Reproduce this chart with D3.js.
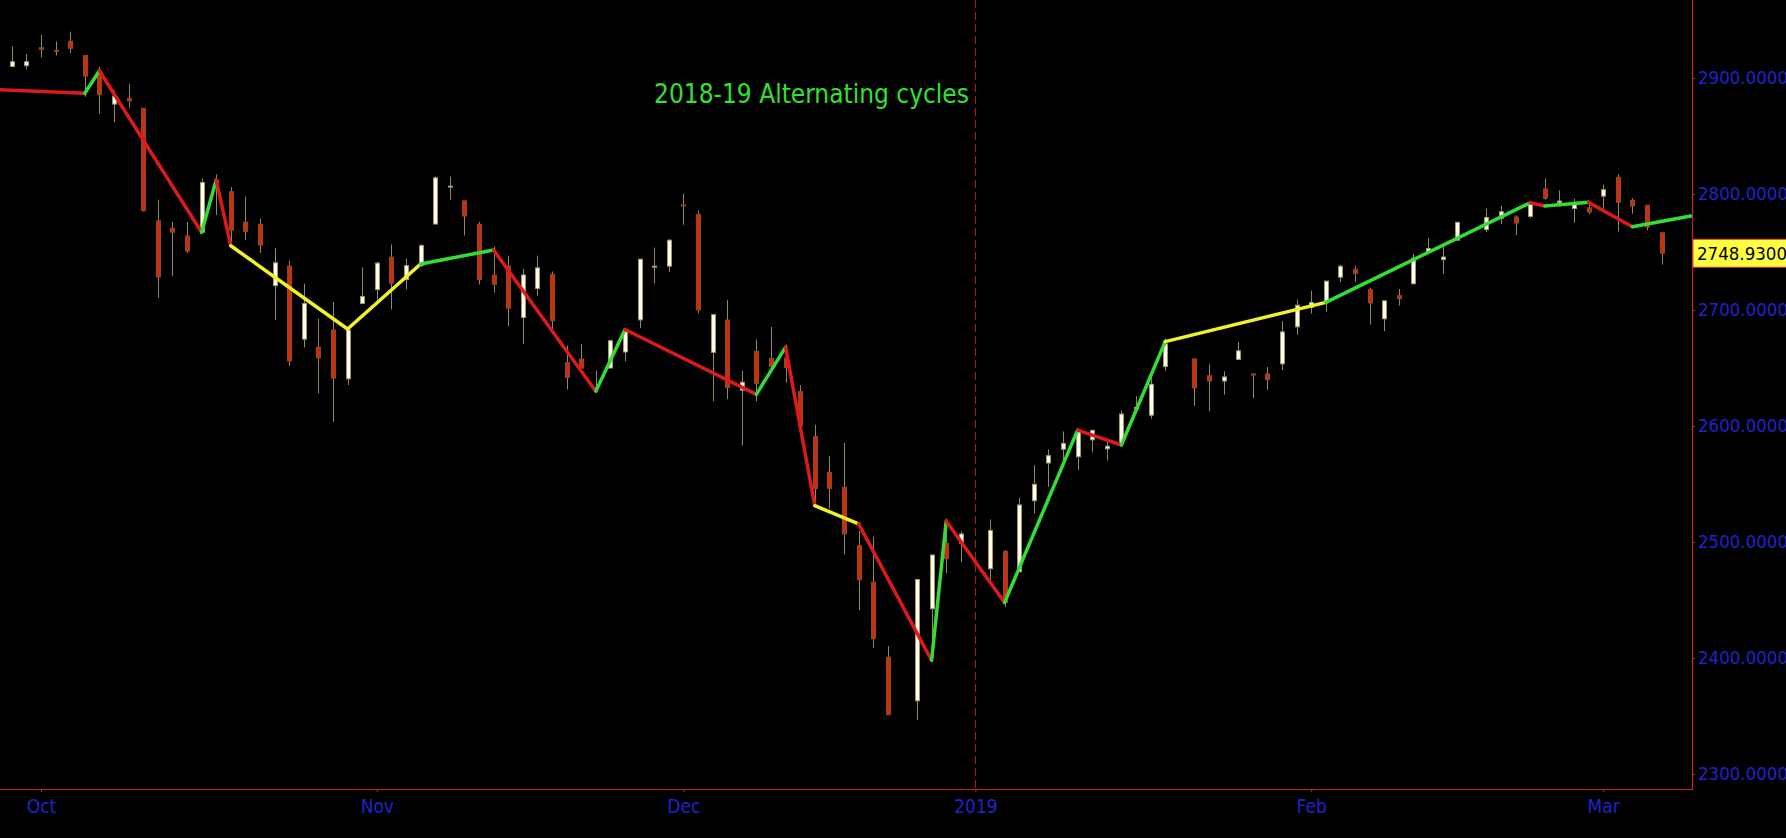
<!DOCTYPE html>
<html lang="en">
<head>
    <meta charset="utf-8">
    <title>2018-19 Alternating cycles</title>
    <script type="text/javascript" src="https://d3js.org/d3.v7.min.js"></script>
    <style>
     body {
        margin: 0;
        background: #000;
        overflow: hidden;
     }

     .axisy text, .axisx text {
        font-family: "DejaVu Sans Condensed", "Liberation Sans", sans-serif;
        fill: #2222cc;
     }

     .axisy path, .axisx path {
        display: none;
     }

     .axisy line, .axisx line {
        stroke: #c62828;
     }
    </style>
</head>
<body>
    <div id="chart"></div>
    <script type="text/javascript">
        const width = 1786;
        const height = 838;
        const plotRight = 1692;
        const plotBottom = 789;

        // daily S&P 500 bars
        const dates = [
            "2018-09-27","2018-09-28","2018-10-01","2018-10-02","2018-10-03","2018-10-04","2018-10-05","2018-10-08",
            "2018-10-09","2018-10-10","2018-10-11","2018-10-12","2018-10-15","2018-10-16","2018-10-17","2018-10-18",
            "2018-10-19","2018-10-22","2018-10-23","2018-10-24","2018-10-25","2018-10-26","2018-10-29","2018-10-30",
            "2018-10-31","2018-11-01","2018-11-02","2018-11-05","2018-11-06","2018-11-07","2018-11-08","2018-11-09",
            "2018-11-12","2018-11-13","2018-11-14","2018-11-15","2018-11-16","2018-11-19","2018-11-20","2018-11-21",
            "2018-11-23","2018-11-26","2018-11-27","2018-11-28","2018-11-29","2018-11-30","2018-12-03","2018-12-04",
            "2018-12-06","2018-12-07","2018-12-10","2018-12-11","2018-12-12","2018-12-13","2018-12-14","2018-12-17",
            "2018-12-18","2018-12-19","2018-12-20","2018-12-21","2018-12-24","2018-12-26","2018-12-27","2018-12-28",
            "2018-12-31","2019-01-02","2019-01-03","2019-01-04","2019-01-07","2019-01-08","2019-01-09","2019-01-10",
            "2019-01-11","2019-01-14","2019-01-15","2019-01-16","2019-01-17","2019-01-18","2019-01-22","2019-01-23",
            "2019-01-24","2019-01-25","2019-01-28","2019-01-29","2019-01-30","2019-01-31","2019-02-01","2019-02-04",
            "2019-02-05","2019-02-06","2019-02-07","2019-02-08","2019-02-11","2019-02-12","2019-02-13","2019-02-14",
            "2019-02-15","2019-02-19","2019-02-20","2019-02-21","2019-02-22","2019-02-25","2019-02-26","2019-02-27",
            "2019-02-28","2019-03-01","2019-03-04","2019-03-05","2019-03-06","2019-03-07"
        ];
        const opens = [
            2910.0, 2910.6, 2926.3, 2923.8, 2931.7, 2919.4, 2902.5, 2877.5, 2882.5, 2873.9, 2776.9, 2770.5,
            2763.8, 2767.1, 2811.7, 2802.0, 2775.7, 2773.9, 2721.0, 2737.9, 2674.9, 2667.9, 2682.7, 2640.7,
            2705.6, 2717.6, 2745.5, 2726.4, 2738.4, 2774.1, 2806.4, 2794.1, 2773.9, 2730.1, 2737.9, 2693.5,
            2718.5, 2730.7, 2654.6, 2657.7, 2633.4, 2650.0, 2663.8, 2691.5, 2737.0, 2737.8, 2790.5, 2782.4,
            2663.5, 2691.3, 2630.9, 2664.4, 2658.2, 2658.7, 2629.7, 2590.8, 2559.9, 2547.1, 2496.8, 2465.4,
            2400.6, 2363.1, 2442.5, 2498.8, 2498.9, 2477.0, 2491.9, 2474.3, 2535.6, 2568.1, 2580.0, 2573.5,
            2588.1, 2580.3, 2585.1, 2614.8, 2609.3, 2651.3, 2657.9, 2643.5, 2638.8, 2657.4, 2644.9, 2644.9,
            2653.6, 2685.5, 2702.3, 2706.5, 2728.3, 2735.1, 2717.5, 2692.4, 2712.4, 2722.6, 2750.3, 2743.5,
            2760.2, 2769.3, 2779.1, 2780.2, 2780.7, 2804.4, 2792.4, 2787.5, 2788.1, 2798.2, 2814.4, 2794.4,
            2790.3, 2766.5
        ];
        const highs = [
            2927.2, 2920.5, 2937.1, 2931.4, 2939.9, 2919.8, 2909.6, 2889.5, 2894.8, 2874.0, 2795.1, 2775.8,
            2776.0, 2813.5, 2816.9, 2806.0, 2797.8, 2778.9, 2753.6, 2742.6, 2722.7, 2692.4, 2706.9, 2685.4,
            2736.7, 2741.7, 2756.6, 2744.3, 2756.8, 2815.2, 2814.8, 2794.1, 2776.0, 2754.6, 2746.8, 2735.4,
            2746.8, 2733.2, 2669.4, 2670.7, 2647.6, 2674.4, 2682.5, 2744.0, 2753.8, 2760.9, 2800.2, 2785.9,
            2696.2, 2708.5, 2647.5, 2674.4, 2685.4, 2670.2, 2635.1, 2601.1, 2574.0, 2585.3, 2509.6, 2504.4,
            2410.3, 2467.8, 2489.1, 2520.3, 2509.2, 2519.5, 2493.1, 2538.1, 2566.2, 2579.8, 2595.3, 2597.8,
            2596.3, 2589.3, 2613.1, 2625.8, 2645.1, 2675.5, 2657.9, 2653.2, 2647.2, 2672.4, 2644.9, 2650.9,
            2690.4, 2709.0, 2716.7, 2725.0, 2739.0, 2738.1, 2719.3, 2708.1, 2718.1, 2748.2, 2761.9, 2757.9,
            2775.7, 2787.3, 2789.9, 2781.6, 2794.2, 2813.5, 2803.1, 2795.8, 2793.7, 2808.0, 2816.9, 2796.4,
            2790.3, 2767.3
        ];
        const lows = [
            2909.3, 2907.5, 2917.9, 2919.4, 2921.4, 2883.9, 2869.3, 2862.1, 2874.3, 2784.9, 2710.5, 2729.4,
            2749.0, 2766.9, 2781.8, 2755.2, 2760.3, 2749.2, 2691.4, 2651.9, 2667.8, 2628.2, 2603.5, 2635.3,
            2705.6, 2708.9, 2700.4, 2717.9, 2737.1, 2774.1, 2795.0, 2764.2, 2722.0, 2715.0, 2685.8, 2670.8,
            2712.2, 2681.1, 2631.5, 2649.8, 2631.1, 2650.0, 2655.9, 2684.4, 2722.9, 2732.8, 2773.4, 2697.2,
            2621.5, 2623.1, 2583.2, 2621.3, 2650.3, 2637.3, 2593.8, 2530.5, 2528.7, 2489.0, 2441.2, 2408.6,
            2351.1, 2346.6, 2397.9, 2472.9, 2482.8, 2467.5, 2444.0, 2474.3, 2524.6, 2547.6, 2568.9, 2562.0,
            2577.4, 2570.4, 2585.1, 2612.7, 2606.4, 2647.6, 2617.3, 2612.9, 2627.0, 2657.3, 2624.1, 2631.1,
            2648.3, 2678.7, 2696.9, 2698.8, 2724.0, 2724.2, 2687.3, 2681.8, 2703.8, 2722.6, 2748.6, 2731.2,
            2760.2, 2767.3, 2774.1, 2764.6, 2779.1, 2795.0, 2789.5, 2775.1, 2782.5, 2787.4, 2767.7, 2783.0,
            2768.7, 2739.1
        ];
        const closes = [
            2914.0, 2914.0, 2924.6, 2923.4, 2925.5, 2901.6, 2885.6, 2884.4, 2880.3, 2785.7, 2728.4, 2767.1,
            2750.8, 2809.9, 2809.2, 2768.8, 2767.8, 2755.9, 2740.7, 2656.1, 2705.6, 2658.7, 2641.3, 2682.6,
            2711.7, 2740.4, 2723.1, 2738.3, 2755.5, 2813.9, 2806.8, 2781.0, 2726.2, 2722.2, 2701.6, 2730.2,
            2736.3, 2690.7, 2641.9, 2649.9, 2632.6, 2673.5, 2682.2, 2743.8, 2737.8, 2760.2, 2790.4, 2700.1,
            2696.0, 2633.1, 2637.7, 2636.8, 2651.1, 2650.5, 2600.0, 2545.9, 2546.2, 2507.0, 2467.4, 2416.6,
            2351.1, 2467.7, 2488.8, 2485.7, 2506.9, 2510.0, 2447.9, 2531.9, 2549.7, 2574.4, 2585.0, 2596.6,
            2596.3, 2582.6, 2610.3, 2616.1, 2636.0, 2670.7, 2632.9, 2638.7, 2642.3, 2664.8, 2643.9, 2640.0,
            2681.1, 2704.1, 2706.5, 2724.9, 2737.7, 2731.6, 2706.1, 2707.9, 2709.8, 2744.7, 2753.0, 2745.7,
            2775.6, 2779.8, 2784.7, 2774.9, 2792.7, 2796.1, 2793.9, 2792.4, 2784.5, 2803.7, 2792.8, 2789.7,
            2771.5, 2748.93
        ];

        // empty day slots on the time axis (margin days and market holidays)
        const blankSlots = ["2018-09-26", "2018-12-25", "2019-01-01", "2019-01-21", "2019-02-18", "2019-03-08", "2019-03-11"];

        // alternating cycle line: turning points and the kind of each leg between them
        const cycleDates = [
            "2018-09-26","2018-10-04","2018-10-05","2018-10-16","2018-10-17","2018-10-18","2018-10-30","2018-11-06",
            "2018-11-13","2018-11-23","2018-11-27","2018-12-11","2018-12-13","2018-12-17","2018-12-20","2018-12-27",
            "2018-12-28","2019-01-03","2019-01-10","2019-01-15","2019-01-18","2019-02-04","2019-02-22","2019-02-25",
            "2019-02-28","2019-03-05","2019-03-11"
        ];
        const cyclePrices = [
            2890.0, 2886.8, 2906.3, 2767.0, 2812.0, 2755.4, 2683.6, 2739.6,
            2751.7, 2630.0, 2683.2, 2627.3, 2668.0, 2531.3, 2515.6, 2398.0,
            2518.0, 2447.8, 2596.5, 2583.6, 2672.7, 2706.6, 2792.5, 2789.7,
            2792.8, 2771.8, 2781.0
        ];
        const cycleLegs = [
            "down", "up", "down", "up", "down", "side", "side", "up", "down", "up", "down", "up", "down",
            "side", "down", "up", "down", "up", "down", "up", "side", "up", "down", "up", "down", "up"
        ];

        const monthTickDates = ["2018-10-01", "2018-11-01", "2018-12-03", "2019-01-01", "2019-02-01", "2019-03-01"];
        const monthTickLabels = ["Oct", "Nov", "Dec", "2019", "Feb", "Mar"];
        const priceTicks = [2300, 2400, 2500, 2600, 2700, 2800, 2900];
        const yearStart = "2019-01-01";
        const lastPrice = 2748.93;
        const chartTitle = "2018-19 Alternating cycles";

        const legColour = {up: "#33dd33", down: "#dd1a1a", side: "#f2f22a"};

        const bars = dates.map((d, i) => ({date: d, open: opens[i], high: highs[i], low: lows[i], close: closes[i]}));
        const slots = dates.concat(blankSlots).sort();

        const svg = d3.select("#chart")
            .append("svg")
            .attr("width", width)
            .attr("height", height)
            .style("background", "#000");

        const xScale = d3.scalePoint()
            .domain(slots)
            .range([-2.8, 1690.8]);

        const yScale = d3.scaleLinear()
            .domain([2300, 2900])
            .range([774, 78]);

        svg.append("clipPath")
            .attr("id", "plot-clip")
            .append("rect")
            .attr("x", 0)
            .attr("y", 0)
            .attr("width", plotRight)
            .attr("height", plotBottom);

        const plot = svg.append("g").attr("clip-path", "url(#plot-clip)");

        // year divider
        plot.append("line")
            .attr("x1", xScale(yearStart))
            .attr("x2", xScale(yearStart))
            .attr("y1", 0)
            .attr("y2", plotBottom)
            .attr("stroke", "#b02222")
            .attr("stroke-width", 1)
            .attr("stroke-dasharray", "8,4");

        // candles
        const candles = plot.append("g")
            .attr("class", "candles")
            .selectAll("g")
            .data(bars)
            .enter()
            .append("g");

        candles.append("line")
            .attr("x1", d => Math.round(xScale(d.date)) + 0.5)
            .attr("x2", d => Math.round(xScale(d.date)) + 0.5)
            .attr("y1", d => yScale(d.high))
            .attr("y2", d => yScale(d.low))
            .attr("stroke", "#8d8a66")
            .attr("stroke-width", 1);

        candles.append("rect")
            .attr("x", d => Math.round(xScale(d.date)) - 1.5)
            .attr("y", d => yScale(Math.max(d.open, d.close)))
            .attr("width", 4)
            .attr("height", d => Math.max(1, Math.abs(yScale(d.open) - yScale(d.close))))
            .attr("fill", d => d.close >= d.open ? "#fffbe8" : "#d22a0c")
            .attr("stroke", d => d.close >= d.open ? "#a09a6a" : "#8a4a22")
            .attr("stroke-width", 1);

        // cycle line, one leg at a time
        const legs = cycleLegs.map((kind, i) => ({
            kind: kind,
            from: [cycleDates[i], cyclePrices[i]],
            to: [cycleDates[i + 1], cyclePrices[i + 1]]
        }));

        plot.append("g")
            .attr("class", "cycles")
            .selectAll("line")
            .data(legs)
            .enter()
            .append("line")
            .attr("x1", d => xScale(d.from[0]))
            .attr("y1", d => yScale(d.from[1]))
            .attr("x2", d => xScale(d.to[0]))
            .attr("y2", d => yScale(d.to[1]))
            .attr("stroke", d => legColour[d.kind])
            .attr("stroke-width", 3.5)
            .attr("stroke-linecap", "round");

        // title
        svg.append("text")
            .attr("x", 654)
            .attr("y", 103)
            .attr("font-family", "'DejaVu Sans Condensed', 'Liberation Sans', sans-serif")
            .attr("font-size", 26)
            .attr("fill", "#33e033")
            .text(chartTitle);

        // axes
        const yAxis = d3.axisRight(yScale)
            .tickValues(priceTicks)
            .tickFormat(d3.format(".4f"))
            .tickSize(3)
            .tickPadding(3);

        svg.append("g")
            .attr("class", "axisy")
            .attr("transform", "translate(" + plotRight + ",0)")
            .call(yAxis)
            .selectAll("text")
            .attr("font-size", 18.5);

        const xAxis = d3.axisBottom(xScale)
            .tickValues(monthTickDates)
            .tickFormat((d, i) => monthTickLabels[i])
            .tickSize(3)
            .tickPadding(8);

        svg.append("g")
            .attr("class", "axisx")
            .attr("transform", "translate(0," + plotBottom + ")")
            .call(xAxis)
            .selectAll("text")
            .attr("font-size", 19);

        svg.append("path")
            .attr("d", "M0," + (plotBottom + 0.5) + "H" + (plotRight + 0.5) + "V0")
            .attr("fill", "none")
            .attr("stroke", "#c62828")
            .attr("stroke-width", 1.2);

        // last price tag
        const tag = svg.append("g")
            .attr("transform", "translate(" + (plotRight + 1) + "," + yScale(lastPrice) + ")");

        tag.append("rect")
            .attr("x", 0)
            .attr("y", -14)
            .attr("width", width - plotRight)
            .attr("height", 28)
            .attr("fill", "#ffff40")
            .attr("stroke", "#d04040")
            .attr("stroke-width", 1);

        tag.append("text")
            .attr("x", 4)
            .attr("dy", "0.35em")
            .attr("font-family", "'DejaVu Sans Condensed', 'Liberation Sans', sans-serif")
            .attr("font-size", 18.5)
            .attr("fill", "#000")
            .text(d3.format(".4f")(lastPrice));
    </script>
</body>
</html>
